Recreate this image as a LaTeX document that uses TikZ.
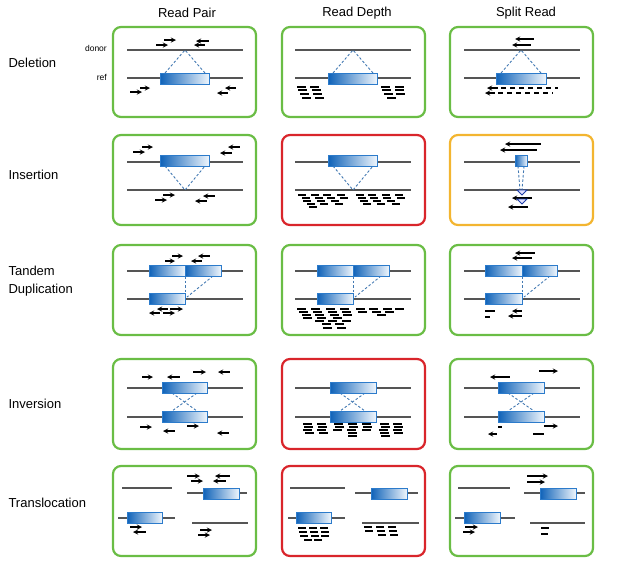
\documentclass[tikz,border=0pt]{standalone}
\usepackage{fontspec}
\setmainfont{Liberation Sans}
\usetikzlibrary{arrows}

\definecolor{okgreen}{HTML}{6ABD45}
\definecolor{badred}{HTML}{D9252B}
\definecolor{midorange}{HTML}{F3B530}
\definecolor{chromgray}{HTML}{555555}
\definecolor{segdark}{HTML}{0F62B8}
\definecolor{seglight}{HTML}{EEF5FC}
\definecolor{segedge}{HTML}{2C7BCB}
\definecolor{linkblue}{HTML}{4379B2}
\definecolor{trinavy}{HTML}{1F3FA8}

\tikzstyle{panel} = [rectangle, rounded corners=8pt, minimum width=143pt, minimum height=90pt, line width=2.2pt, outer sep=0pt, inner sep=0pt, anchor=north west]
\tikzstyle{good} = [panel, draw=okgreen]
\tikzstyle{bad} = [panel, draw=badred]
\tikzstyle{fair} = [panel, draw=midorange]
\tikzstyle{chrom} = [line width=1.9pt, draw=chromgray]
\tikzstyle{seg} = [draw=segedge, line width=0.8pt, left color=segdark, right color=seglight]
\tikzstyle{link} = [draw=linkblue, line width=0.9pt, dash pattern=on 2.5pt off 2pt]
\tikzstyle{fwd} = [line width=1.3pt, ->, >=stealth]
\tikzstyle{rev} = [line width=1.3pt, <-, >=stealth]
\tikzstyle{hit} = [line width=1.3pt]
\tikzstyle{insmark} = [draw=trinavy, fill=blue!12, line width=0.9pt]
\tikzstyle{colhead} = [font=\fontsize{13}{15}\selectfont]
\tikzstyle{rowlabel} = [font=\fontsize{13}{18}\selectfont, anchor=west, align=left]
\tikzstyle{donortag} = [font=\fontsize{8.5}{10}\selectfont, anchor=east, inner sep=1pt]

\begin{document}
\begin{tikzpicture}[x=1pt, y=-1pt]
\useasboundingbox (0,0) rectangle (623,579);

% Headers
\node[colhead] (hpair) at (187,13) {Read Pair};
\node[colhead] (hdepth) at (357,13) {Read Depth};
\node[colhead] (hsplit) at (526,13) {Split Read};

\node[rowlabel] (ldel) at (5,63) {Deletion};
\node[rowlabel] (lins) at (5,175) {Insertion};
\node[rowlabel] (ldup) at (5,281) {Tandem\\Duplication};
\node[rowlabel] (linv) at (5,404) {Inversion};
\node[rowlabel] (ltra) at (5,503) {Translocation};

\node[donortag] (donor) at (108,48) {donor};
\node[donortag] (ref) at (108,77) {ref};

% Panels
\node[good] (delpair) at (113,27) {};
\node[good] (deldepth) at (282,27) {};
\node[good] (delsplit) at (450,27) {};
\node[good] (inspair) at (113,135) {};
\node[bad] (insdepth) at (282,135) {};
\node[fair] (inssplit) at (450,135) {};
\node[good] (duppair) at (113,245) {};
\node[good] (dupdepth) at (282,245) {};
\node[good] (dupsplit) at (450,245) {};
\node[good] (invpair) at (113,359) {};
\node[bad] (invdepth) at (282,359) {};
\node[good] (invsplit) at (450,359) {};
\node[good] (trapair) at (113,466) {};
\node[bad] (tradepth) at (282,466) {};
\node[good] (trasplit) at (450,466) {};

% Deletion
\begin{scope}[shift={(delpair.north west)}]
\draw[chrom] (14,23) -- (130,23);
\draw[chrom] (14,51) -- (130,51);
\draw[link] (52,46) -- (72,23) -- (92,46);
\draw[seg] (47,46) rectangle (96,57);
\draw[fwd] (51,13) -- (63,13);
\draw[fwd] (43,18) -- (55,18);
\draw[rev] (83,14) -- (96,14);
\draw[rev] (81,18) -- (92,18);
\draw[fwd] (17,65) -- (29,65);
\draw[fwd] (27,61) -- (37,61);
\draw[rev] (104,66) -- (115,66);
\draw[rev] (112,61) -- (123,61);
\end{scope}

\begin{scope}[shift={(deldepth.north west)}]
\draw[chrom] (13,23) -- (129,23);
\draw[chrom] (13,51) -- (129,51);
\draw[link] (51,46) -- (71,23) -- (91,46);
\draw[seg] (46,46) rectangle (95,57);
\foreach \x/\y in {15/60, 28/60, 16/63, 30/63, 18/67, 31/67, 20/71, 33/71,
                   99/60, 113/60, 100/63, 113/63, 102/67, 114/67, 105/71}
  \draw[hit] (\x,\y) -- ++(9,0);
\end{scope}

\begin{scope}[shift={(delsplit.north west)}]
\draw[chrom] (14,23) -- (130,23);
\draw[chrom] (14,51) -- (130,51);
\draw[link] (51,46) -- (71,23) -- (91,46);
\draw[seg] (46,46) rectangle (96,57);
\draw[rev] (65,12) -- (84,12);
\draw[rev] (62,18) -- (81,18);
\draw[rev] (37,61) -- (48,61);
\draw[hit, dash pattern=on 5pt off 4pt] (51,61) -- (108,61);
\draw[rev] (35,66) -- (45,66);
\draw[hit, dash pattern=on 5pt off 4pt] (48,66) -- (103,66);
\end{scope}

% Insertion
\begin{scope}[shift={(inspair.north west)}]
\draw[chrom] (14,27) -- (130,27);
\draw[chrom] (14,55) -- (130,55);
\draw[link] (52,31) -- (72,55) -- (92,31);
\draw[seg] (47,20) rectangle (96,31);
\draw[fwd] (20,17) -- (32,17);
\draw[fwd] (29,12) -- (40,12);
\draw[rev] (107,18) -- (119,18);
\draw[rev] (115,12) -- (127,12);
\draw[fwd] (42,65) -- (54,65);
\draw[fwd] (50,60) -- (62,60);
\draw[rev] (82,66) -- (94,66);
\draw[rev] (90,61) -- (102,61);
\end{scope}

\begin{scope}[shift={(insdepth.north west)}]
\draw[chrom] (13,27) -- (129,27);
\draw[chrom] (13,55) -- (129,55);
\draw[link] (51,31) -- (71,55) -- (91,31);
\draw[seg] (46,20) rectangle (95,31);
\foreach \x/\y in {16/60, 29/60, 41/60, 55/60, 74/60, 86/60, 100/60, 113/60,
                   20/63, 33/63, 45/63, 58/63, 76/63, 88/63, 101/63, 115/63,
                   21/66, 35/66, 49/66, 78/66, 91/66, 105/66,
                   25/69, 38/69, 53/69, 81/69, 95/69, 110/69,
                   27/72}
  \draw[hit] (\x,\y) -- ++(8,0);
\end{scope}

\begin{scope}[shift={(inssplit.north west)}]
\draw[chrom] (14,27) -- (130,27);
\draw[chrom] (14,55) -- (130,55);
\draw[link] (68,31) -- (70,55);
\draw[link] (74,31) -- (72,55);
\draw[seg] (65,20) rectangle (77,31);
\draw[rev] (55,9) -- (91,9);
\draw[rev] (50,15) -- (87,15);
\draw[insmark] (67,55) -- (77,55) -- (72,60) -- cycle;
\draw[rev] (62,63) -- (82,63);
\draw[insmark] (67,64) -- (77,64) -- (72,69) -- cycle;
\draw[rev] (58,72) -- (78,72);
\end{scope}

% Tandem duplication
\begin{scope}[shift={(duppair.north west)}]
\draw[chrom] (14,26) -- (130,26);
\draw[chrom] (14,54) -- (130,54);
\draw[link] (72,31) -- (72,48);
\draw[link] (100,31) -- (74,52);
\draw[seg] (36,20) rectangle (72,31);
\draw[seg] (72,20) rectangle (108,31);
\draw[seg] (36,48) rectangle (72,59);
\draw[fwd] (59,11) -- (70,11);
\draw[fwd] (52,16) -- (62,16);
\draw[rev] (85,11) -- (97,11);
\draw[rev] (78,16) -- (89,16);
\draw[rev] (44,64) -- (55,64);
\draw[fwd] (57,64) -- (70,64);
\draw[rev] (36,68) -- (47,68);
\draw[fwd] (50,68) -- (62,68);
\end{scope}

\begin{scope}[shift={(dupdepth.north west)}]
\draw[chrom] (13,26) -- (129,26);
\draw[chrom] (13,54) -- (129,54);
\draw[link] (71,31) -- (71,48);
\draw[link] (99,31) -- (73,52);
\draw[seg] (35,20) rectangle (71,31);
\draw[seg] (71,20) rectangle (107,31);
\draw[seg] (35,48) rectangle (71,59);
\foreach \x/\y in {15/64, 29/64, 44/64, 58/64, 74/64, 87/64, 101/64, 113/64,
                   17/67, 31/67, 46/67, 60/67, 76/67, 90/67, 103/67,
                   20/70, 33/70, 48/70, 61/70, 95/70,
                   21/73, 35/73, 51/73,
                   33/76, 46/76, 60/76,
                   40/79, 53/79,
                   41/83, 55/83}
  \draw[hit] (\x,\y) -- ++(9,0);
\end{scope}

\begin{scope}[shift={(dupsplit.north west)}]
\draw[chrom] (14,26) -- (130,26);
\draw[chrom] (14,54) -- (130,54);
\draw[link] (72,31) -- (72,48);
\draw[link] (100,31) -- (74,52);
\draw[seg] (35,20) rectangle (72,31);
\draw[seg] (72,20) rectangle (107,31);
\draw[seg] (35,48) rectangle (72,59);
\draw[rev] (65,8) -- (85,8);
\draw[rev] (62,13) -- (82,13);
\draw[hit] (35,66) -- (45,66);
\draw[hit] (35,72) -- (40,72);
\draw[rev] (62,66) -- (72,66);
\draw[rev] (58,71) -- (72,71);
\end{scope}

% Inversion
\begin{scope}[shift={(invpair.north west)}]
\draw[chrom] (14,29) -- (130,29);
\draw[chrom] (14,58) -- (130,58);
\draw[link] (59,34) -- (84,52);
\draw[link] (84,34) -- (59,52);
\draw[seg] (49,23) rectangle (94,34);
\draw[seg] (49,52) rectangle (94,63);
\draw[fwd] (29,18) -- (40,18);
\draw[rev] (54,18) -- (67,18);
\draw[fwd] (80,13) -- (93,13);
\draw[rev] (105,13) -- (117,13);
\draw[fwd] (27,68) -- (39,68);
\draw[rev] (50,72) -- (62,72);
\draw[fwd] (74,67) -- (86,67);
\draw[rev] (104,74) -- (116,74);
\end{scope}

\begin{scope}[shift={(invdepth.north west)}]
\draw[chrom] (13,29) -- (129,29);
\draw[chrom] (13,58) -- (129,58);
\draw[link] (58,34) -- (83,52);
\draw[link] (83,34) -- (58,52);
\draw[seg] (48,23) rectangle (94,34);
\draw[seg] (48,52) rectangle (94,63);
\foreach \x/\y in {21/65, 35/65, 52/65, 66/65, 80/65, 98/65, 111/65,
                   22/68, 36/68, 53/68, 67/68, 81/68, 99/68, 112/68,
                   21/71, 35/71, 51/71, 65/71, 80/71, 97/71, 111/71,
                   23/74, 37/74, 66/74, 98/74, 112/74,
                   66/77, 99/77}
  \draw[hit] (\x,\y) -- ++(9,0);
\end{scope}

\begin{scope}[shift={(invsplit.north west)}]
\draw[chrom] (14,29) -- (130,29);
\draw[chrom] (14,58) -- (130,58);
\draw[link] (58,34) -- (84,52);
\draw[link] (84,34) -- (58,52);
\draw[seg] (48,23) rectangle (94,34);
\draw[seg] (48,52) rectangle (94,63);
\draw[rev] (40,18) -- (60,18);
\draw[fwd] (89,12) -- (108,12);
\draw[hit] (48,68) -- (52,68);
\draw[rev] (38,75) -- (47,75);
\draw[fwd] (94,67) -- (108,67);
\draw[hit] (83,75) -- (94,75);
\end{scope}

% Translocation
\begin{scope}[shift={(trapair.north west)}]
\draw[chrom] (9,22) -- (59,22);
\draw[chrom] (74,27) -- (134,27);
\draw[seg] (90,22) rectangle (126,33);
\draw[chrom] (5,52) -- (62,52);
\draw[seg] (14,46) rectangle (49,57);
\draw[chrom] (79,57) -- (135,57);
\draw[fwd] (74,10) -- (87,10);
\draw[fwd] (78,15) -- (90,15);
\draw[rev] (102,10) -- (117,10);
\draw[rev] (100,15) -- (113,15);
\draw[fwd] (17,61) -- (29,61);
\draw[rev] (20,66) -- (33,66);
\draw[fwd] (87,64) -- (99,64);
\draw[fwd] (85,69) -- (97,69);
\end{scope}

\begin{scope}[shift={(tradepth.north west)}]
\draw[chrom] (8,22) -- (63,22);
\draw[chrom] (73,27) -- (136,27);
\draw[seg] (89,22) rectangle (125,33);
\draw[chrom] (6,52) -- (63,52);
\draw[seg] (14,46) rectangle (49,57);
\draw[chrom] (80,57) -- (137,57);
\foreach \x/\y in {16/62, 27/62, 38/62, 17/66, 28/66, 39/66,
                   18/70, 29/70, 39/70, 22/74, 32/74,
                   82/61, 94/61, 106/61, 83/65, 95/65, 107/65, 96/69, 108/69}
  \draw[hit] (\x,\y) -- ++(8,0);
\end{scope}

\begin{scope}[shift={(trasplit.north west)}]
\draw[chrom] (8,22) -- (60,22);
\draw[chrom] (74,27) -- (135,27);
\draw[seg] (90,22) rectangle (126,33);
\draw[chrom] (5,52) -- (65,52);
\draw[seg] (14,46) rectangle (50,57);
\draw[chrom] (80,57) -- (135,57);
\draw[fwd] (77,10) -- (98,10);
\draw[fwd] (77,16) -- (95,16);
\draw[fwd] (15,61) -- (28,61);
\draw[fwd] (13,66) -- (25,66);
\draw[hit] (91,62) -- (99,62);
\draw[hit] (91,68) -- (98,68);
\end{scope}

\end{tikzpicture}
\end{document}
